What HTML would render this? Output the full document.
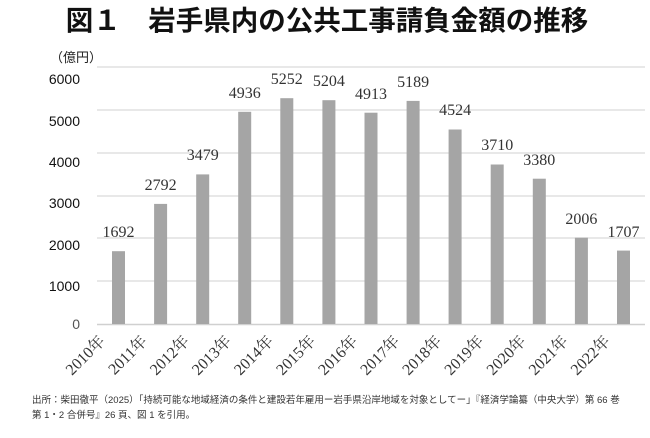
<!DOCTYPE html>
<html><head><meta charset="utf-8"><style>
body{margin:0;background:#fff;width:650px;height:433px;overflow:hidden}
</style></head><body>
<svg width="650" height="433" xmlns="http://www.w3.org/2000/svg">
<text x="327" y="30" text-anchor="middle" font-family="'Liberation Sans','Noto Sans CJK JP',sans-serif" font-size="27.5" font-weight="bold" fill="#111">図１　岩手県内の公共工事請負金額の推移</text>
<text x="50" y="62" font-family="'Liberation Sans','Noto Sans CJK JP',sans-serif" font-size="13" fill="#222">（億円）</text>
<g stroke="#d9d9d9" stroke-width="1.2">
<line x1="97" x2="645" y1="67" y2="67"/><line x1="97" x2="645" y1="110" y2="110"/><line x1="97" x2="645" y1="153" y2="153"/><line x1="97" x2="645" y1="196" y2="196"/><line x1="97" x2="645" y1="238" y2="238"/><line x1="97" x2="645" y1="281" y2="281"/>
</g>
<line x1="97" x2="645" y1="324.5" y2="324.5" stroke="#d0d0d0" stroke-width="1.5"/>
<g font-family="'Liberation Sans',sans-serif" font-size="14" fill="#111" text-anchor="end">
<text x="80" y="84">6000</text><text x="80" y="126">5000</text><text x="80" y="167">4000</text><text x="80" y="208">3000</text><text x="80" y="250">2000</text><text x="80" y="291">1000</text><text x="80" y="329" fill="#555">0</text>
</g>
<g fill="#a5a5a5">
<rect x="112" y="251.2" width="13" height="72.8"/>
<rect x="154.1" y="203.9" width="13" height="120.1"/>
<rect x="196.2" y="174.4" width="13" height="149.6"/>
<rect x="238.2" y="111.8" width="13" height="212.2"/>
<rect x="280.3" y="98.2" width="13" height="225.8"/>
<rect x="322.4" y="100.2" width="13" height="223.8"/>
<rect x="364.5" y="112.7" width="13" height="211.3"/>
<rect x="406.6" y="100.9" width="13" height="223.1"/>
<rect x="448.6" y="129.5" width="13" height="194.5"/>
<rect x="490.7" y="164.5" width="13" height="159.5"/>
<rect x="532.8" y="178.7" width="13" height="145.3"/>
<rect x="574.9" y="237.7" width="13" height="86.3"/>
<rect x="617" y="250.6" width="13" height="73.4"/>
</g>
<g font-family="'Liberation Serif',serif" font-size="16" fill="#333" text-anchor="middle">
<text x="118.5" y="237">1692</text>
<text x="160.6" y="190">2792</text>
<text x="202.7" y="160">3479</text>
<text x="244.7" y="98">4936</text>
<text x="286.8" y="84">5252</text>
<text x="328.9" y="86">5204</text>
<text x="371" y="99">4913</text>
<text x="413.1" y="87">5189</text>
<text x="455.1" y="115">4524</text>
<text x="497.2" y="150">3710</text>
<text x="539.3" y="165">3380</text>
<text x="581.4" y="224">2006</text>
<text x="623.5" y="237">1707</text>
</g>
<g font-family="'Liberation Serif','Noto Serif CJK SC',serif" font-size="16" fill="#333" text-anchor="end">
<text transform="translate(106,342) rotate(-45)">2010年</text>
<text transform="translate(148.1,342) rotate(-45)">2011年</text>
<text transform="translate(190.2,342) rotate(-45)">2012年</text>
<text transform="translate(232.2,342) rotate(-45)">2013年</text>
<text transform="translate(274.3,342) rotate(-45)">2014年</text>
<text transform="translate(316.4,342) rotate(-45)">2015年</text>
<text transform="translate(358.5,342) rotate(-45)">2016年</text>
<text transform="translate(400.6,342) rotate(-45)">2017年</text>
<text transform="translate(442.6,342) rotate(-45)">2018年</text>
<text transform="translate(484.7,342) rotate(-45)">2019年</text>
<text transform="translate(526.8,342) rotate(-45)">2020年</text>
<text transform="translate(568.9,342) rotate(-45)">2021年</text>
<text transform="translate(611,342) rotate(-45)">2022年</text>
</g>
<g font-family="'Liberation Sans','Noto Sans CJK JP',sans-serif" font-size="9.5" fill="#333">
<text x="32" y="403">出所：柴田徹平（2025）「持続可能な地域経済の条件と建設若年雇用ー岩手県沿岸地域を対象としてー」『経済学論纂（中央大学）第 66 巻</text>
<text x="32" y="418">第 1・2 合併号』26 頁、図 1 を引用。</text>
</g>
</svg>
</body></html>
